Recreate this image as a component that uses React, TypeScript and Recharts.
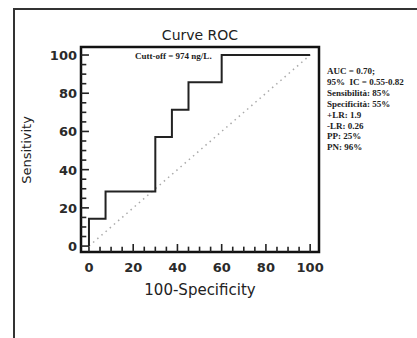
import { LineChart, Line, XAxis, YAxis, ReferenceArea, ReferenceLine } from 'recharts'

// ROC curve points (100-specificity, sensitivity)
const fpr = [0, 0, 7.5, 30, 37.5, 45, 60, 100]
const tpr = [0, 14.3, 28.6, 57.1, 71.4, 85.7, 100, 100]
const diagX = [0, 100]

const majorTicks = [0, 20, 40, 60, 80, 100]
const allTicks = [0, 5, 10, 15, 20, 25, 30, 35, 40, 45, 50, 55, 60, 65, 70, 75, 80, 85, 90, 95, 100]

const statsLines = [
  'AUC = 0.70;',
  '95%  IC = 0.55-0.82',
  'Sensibilità: 85%',
  'Specificità: 55%',
  '+LR: 1.9',
  '-LR: 0.26',
  'PP: 25%',
  'PN: 96%',
]
const cutoffLabel = 'Cutt-off = 974 ng/L.'

const rocData = fpr.map((x, i) => ({ x, y: tpr[i] }))
const diagData = diagX.map((x) => ({ x, y: x }))

const X_DOMAIN: [number, number] = [-3.6, 104]
const Y_DOMAIN: [number, number] = [-3.1, 104.2]

const tickFont = { fontFamily: 'DejaVu Sans', fontSize: 13, fontWeight: 700, fill: '#2a2a2a' }

function renderXTick(props: any) {
  const { x, y, payload } = props
  const v = payload.value
  if (!majorTicks.includes(v)) return <g key={`xt-${v}`} />
  return (
    <text key={`xt-${v}`} x={x} y={y + 12} textAnchor="middle" {...tickFont}>{v}</text>
  )
}

function renderYTick(props: any) {
  const { x, y, payload } = props
  const v = payload.value
  if (!majorTicks.includes(v)) return <g key={`yt-${v}`} />
  return (
    <text key={`yt-${v}`} x={x + 4} y={y + 5} textAnchor="end" {...tickFont}>{v}</text>
  )
}

export default function App() {
  return (
    <div style={{ position: 'absolute', left: 0, top: 0, width: 417, height: 338, background: '#fff', overflow: 'hidden' }}>
      <div style={{ position: 'absolute', left: 13, top: 8, width: 420, height: 340, borderTop: '2px solid #333', borderLeft: '2px solid #333' }} />
      <LineChart
        width={417}
        height={338}
        margin={{ top: 47, right: 98, bottom: 56, left: 51 }}
        style={{ position: 'absolute', left: 0, top: 0 }}
      >
        <XAxis
          dataKey="x"
          type="number"
          domain={X_DOMAIN}
          allowDataOverflow
          ticks={allTicks}
          interval={0}
          height={30}
          tickLine={false}
          axisLine={false}
          tick={renderXTick}
        />
        <YAxis
          dataKey="y"
          type="number"
          domain={Y_DOMAIN}
          allowDataOverflow
          ticks={allTicks}
          interval={0}
          width={30}
          tickLine={false}
          axisLine={false}
          tick={renderYTick}
        />
        {allTicks.map((v) => (
          <ReferenceLine
            key={`xm-${v}`}
            segment={[{ x: v, y: Y_DOMAIN[0] }, { x: v, y: Y_DOMAIN[0] + (majorTicks.includes(v) ? 4.2 : 2.8) }]}
            stroke="#222"
            strokeWidth={1.6}
            ifOverflow="visible"
          />
        ))}
        {allTicks.map((v) => (
          <ReferenceLine
            key={`ym-${v}`}
            segment={[{ x: X_DOMAIN[0], y: v }, { x: X_DOMAIN[0] + (majorTicks.includes(v) ? 3.6 : 2.4), y: v }]}
            stroke="#222"
            strokeWidth={1.6}
            ifOverflow="visible"
          />
        ))}
        <Line
          data={diagData}
          dataKey="y"
          type="linear"
          stroke="#aaa"
          strokeWidth={1.5}
          strokeDasharray="1.5 4"
          dot={false}
          isAnimationActive={false}
        />
        <Line
          data={rocData}
          dataKey="y"
          type="stepAfter"
          stroke="#222"
          strokeWidth={2}
          dot={false}
          isAnimationActive={false}
        />
        <ReferenceArea
          x1={X_DOMAIN[0]}
          x2={X_DOMAIN[1]}
          y1={Y_DOMAIN[0]}
          y2={Y_DOMAIN[1]}
          fill="none"
          fillOpacity={0}
          stroke="#111"
          strokeWidth={2.5}
          ifOverflow="visible"
        />
      </LineChart>
      <div style={{ position: 'absolute', left: 0, width: 400, top: 25, textAlign: 'center', fontFamily: 'DejaVu Sans', fontSize: 14, color: '#222', lineHeight: '20px' }}>
        Curve ROC
      </div>
      <div style={{ position: 'absolute', left: 0, width: 400, top: 280, textAlign: 'center', fontFamily: 'DejaVu Sans', fontSize: 15, color: '#222', lineHeight: '20px' }}>
        100-Specificity
      </div>
      <div style={{ position: 'absolute', left: 27, top: 150, transform: 'translate(-50%, -50%) rotate(-90deg)', fontFamily: 'DejaVu Sans', fontSize: 13, color: '#222', whiteSpace: 'nowrap', lineHeight: '16px' }}>
        Sensitivity
      </div>
      <div style={{ position: 'absolute', left: 135, top: 50, fontFamily: '"Liberation Serif"', fontWeight: 700, fontSize: 9, color: '#222', whiteSpace: 'nowrap', lineHeight: '12px' }}>
        {cutoffLabel}
      </div>
      <div style={{ position: 'absolute', left: 327, top: 66, fontFamily: '"Liberation Serif"', fontWeight: 700, fontSize: 9, color: '#222', whiteSpace: 'pre', lineHeight: '10.9px' }}>
        {statsLines.map((s) => <div key={s}>{s}</div>)}
      </div>
    </div>
  )
}
